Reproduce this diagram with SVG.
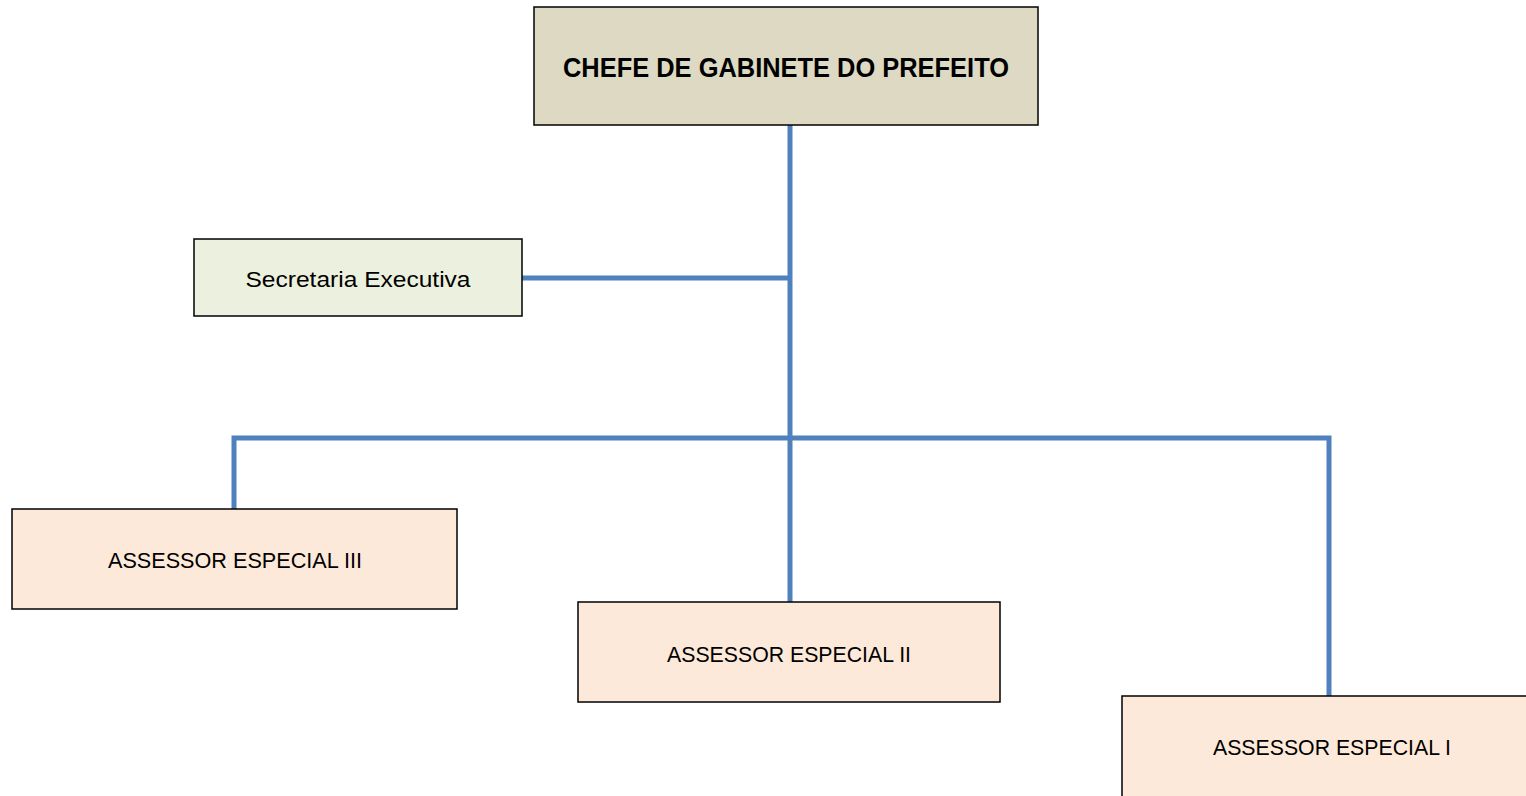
<svg xmlns="http://www.w3.org/2000/svg" width="1526" height="796" viewBox="0 0 1526 796">
<style>
.box{stroke:#000;stroke-width:1.5}
.head{fill:#DDD9C3}
.sec{fill:#EBF1DE}
.ass{fill:#FDE9D9}
.t{font-family:"Liberation Sans",Arial,sans-serif;font-size:22px;fill:#000;text-anchor:middle}
.tb{font-family:"Liberation Sans",Arial,sans-serif;font-size:27px;font-weight:bold;fill:#000;text-anchor:middle}
.c{fill:none;stroke:#4F81BD;stroke-width:5}
</style>
<rect width="1526" height="796" fill="#fff"/>
<g id="connectors">
<path class="c" d="M790 125V602"/>
<path class="c" d="M522 278H790"/>
<path class="c" d="M234 509V438H1329V696"/>
</g>
<g id="chefe">
<rect class="box head" x="534" y="7" width="504" height="118"/>
<text class="tb" x="786" y="77" textLength="446" lengthAdjust="spacingAndGlyphs">CHEFE DE GABINETE DO PREFEITO</text>
</g>
<g id="secretaria">
<rect class="box sec" x="194" y="239" width="328" height="77"/>
<text class="t" x="358" y="287" textLength="225" lengthAdjust="spacingAndGlyphs">Secretaria Executiva</text>
</g>
<g id="assessor3">
<rect class="box ass" x="12" y="509" width="445" height="100"/>
<text class="t" x="235" y="568" textLength="254" lengthAdjust="spacingAndGlyphs">ASSESSOR ESPECIAL III</text>
</g>
<g id="assessor2">
<rect class="box ass" x="578" y="602" width="422" height="100"/>
<text class="t" x="789" y="662" textLength="244" lengthAdjust="spacingAndGlyphs">ASSESSOR ESPECIAL II</text>
</g>
<g id="assessor1">
<rect class="box ass" x="1122" y="696" width="425" height="110"/>
<text class="t" x="1332" y="755" textLength="238" lengthAdjust="spacingAndGlyphs">ASSESSOR ESPECIAL I</text>
</g>
</svg>
